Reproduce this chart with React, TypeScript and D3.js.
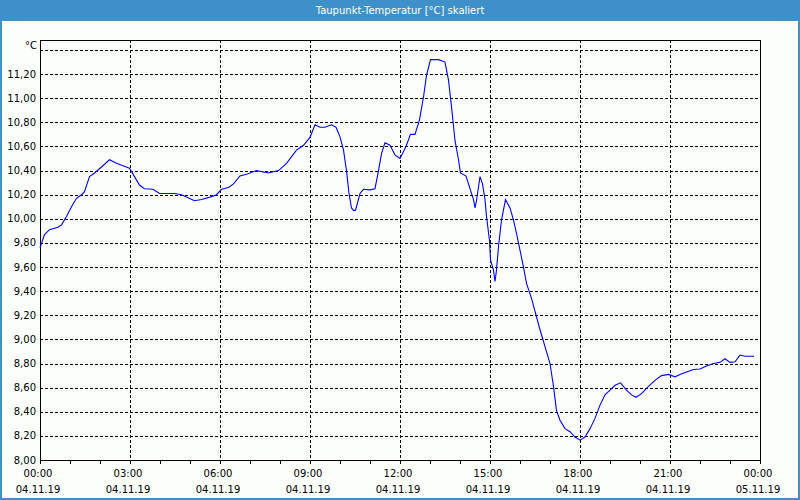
import React from "react";
import * as d3 from "d3";

const TITLE = "Taupunkt-Temperatur [°C] skaliert";
const UNIT = "°C";

// minutes after 04.11.19 00:00
const minutes = [
  0, 9, 19, 36, 43, 53, 63, 73, 83, 89, 99, 109, 123, 139, 153, 166, 179, 189, 199, 209,
  226, 239, 269, 283, 309, 323, 340, 353, 363, 377, 387, 400, 413, 433, 457, 477, 493, 513, 527, 540,
  550, 560, 570, 583, 592, 600, 607, 613, 618, 623, 627, 631, 640, 647, 660, 670, 677, 683, 690, 700,
  710, 720, 732, 741, 750, 759, 767, 773, 781, 797, 810, 817, 823, 830, 837, 841, 852, 860, 867, 870,
  873, 880, 885, 890, 893, 899, 901, 907, 910, 913, 917, 923, 931, 940, 947, 953, 960, 967, 973, 983,
  1000, 1010, 1020, 1027, 1033, 1040, 1050, 1060, 1070, 1080, 1090, 1100, 1110, 1120, 1130, 1140, 1150, 1161, 1173, 1183,
  1192, 1203, 1217, 1230, 1243, 1257, 1270, 1280, 1293, 1307, 1320, 1333, 1347, 1360, 1370, 1380, 1390, 1400, 1410, 1428,
];
const values = [
  9.76, 9.87, 9.91, 9.93, 9.95, 10.02, 10.1, 10.17, 10.2, 10.225, 10.35, 10.38, 10.43, 10.49, 10.46, 10.44, 10.42, 10.35, 10.28, 10.25,
  10.245, 10.21, 10.21, 10.2, 10.15, 10.16, 10.18, 10.2, 10.245, 10.26, 10.29, 10.355, 10.37, 10.4, 10.38, 10.4, 10.46, 10.57, 10.61, 10.675,
  10.78, 10.76, 10.76, 10.78, 10.76, 10.68, 10.57, 10.4, 10.21, 10.09, 10.07, 10.07, 10.21, 10.245, 10.24, 10.25, 10.4, 10.54, 10.63, 10.61,
  10.53, 10.5, 10.6, 10.7, 10.7, 10.82, 11.01, 11.19, 11.32, 11.32, 11.3, 11.15, 10.93, 10.65, 10.49, 10.38, 10.355, 10.25, 10.16, 10.09,
  10.15, 10.35, 10.29, 10.16, 10.02, 9.82, 9.66, 9.575, 9.48, 9.575, 9.77, 9.99, 10.16, 10.09, 9.99, 9.88, 9.74, 9.6, 9.465, 9.34,
  9.08, 8.94, 8.8, 8.61, 8.41, 8.33, 8.26, 8.235, 8.19, 8.165, 8.19, 8.26, 8.345, 8.455, 8.54, 8.58, 8.62, 8.64, 8.58, 8.54,
  8.52, 8.55, 8.61, 8.66, 8.7, 8.71, 8.69, 8.71, 8.73, 8.75, 8.755, 8.78, 8.8, 8.81, 8.84, 8.81, 8.815, 8.87, 8.86, 8.86,
];

// grid lines; the topmost (11,40) has no label in the reference
const yGrid = [8.2, 8.4, 8.6, 8.8, 9.0, 9.2, 9.4, 9.6, 9.8, 10.0, 10.2, 10.4, 10.6, 10.8, 11.0, 11.2, 11.4];
const yLabels = [8.0, 8.2, 8.4, 8.6, 8.8, 9.0, 9.2, 9.4, 9.6, 9.8, 10.0, 10.2, 10.4, 10.6, 10.8, 11.0, 11.2];
const xTickHours = [0, 3, 6, 9, 12, 15, 18, 21, 24];

const W = 800;
const H = 500;
const L = 40;
const R = 760;
const T = 40;
const B = 460;
const FONT = "'DejaVu Sans', sans-serif";

export default function App() {
  const start = new Date(2019, 10, 4, 0, 0, 0);
  const end = new Date(2019, 10, 5, 0, 0, 0);
  const x = d3.scaleTime().domain([start, end]).range([L, R]);
  const y = d3.scaleLinear().domain([8, 11.4]).range([B, 50]);
  const fmtT = d3.timeFormat("%H:%M");
  const fmtD = d3.timeFormat("%d.%m.%y");
  const fmtY = (v: number) => d3.format(".2f")(v).replace(".", ",");

  const pts = minutes.map((m, i) => ({ t: d3.timeMinute.offset(start, m), v: values[i] }));
  const line = d3
    .line<{ t: Date; v: number }>()
    .x((d) => x(d.t))
    .y((d) => y(d.v));

  const hours = d3.range(0, 25).map((h) => d3.timeHour.offset(start, h));
  const majors = xTickHours.map((h) => d3.timeHour.offset(start, h));

  return (
    <svg
      width={W}
      height={H}
      style={{ position: "absolute", left: 0, top: 0, display: "block" }}
      fontFamily={FONT}
    >
      <rect x={0} y={0} width={W} height={H} fill="#fcfefc" />
      <rect x={0} y={0} width={W} height={21} fill="#3e90c8" />
      <text x={400} y={10.5} textAnchor="middle" dominantBaseline="central" fill="#ffffff" fontSize={10}>
        {TITLE}
      </text>
      <rect x={1} y={1} width={W - 2} height={H - 2} fill="none" stroke="#3e90c8" strokeWidth={2} />

      <g shapeRendering="crispEdges">
        {yGrid.map((v) => (
          <line key={"h" + v} x1={L} x2={R} y1={Math.round(y(v)) + 0.5} y2={Math.round(y(v)) + 0.5} stroke="#000" strokeDasharray="3,2" />
        ))}
        {majors
          .filter((d, i) => i > 0 && i < majors.length - 1)
          .map((d, i) => (
            <line key={"v" + i} x1={Math.round(x(d)) + 0.5} x2={Math.round(x(d)) + 0.5} y1={T} y2={B} stroke="#000" strokeDasharray="3,2" />
          ))}
        {hours.map((d, i) => (
          <line key={"t" + i} x1={Math.round(x(d)) + 0.5} x2={Math.round(x(d)) + 0.5} y1={B} y2={B + 4} stroke="#000" />
        ))}
        <rect x={L + 0.5} y={T + 0.5} width={R - L} height={B - T} fill="none" stroke="#000" />
      </g>

      <path d={line(pts) || ""} fill="none" stroke="#0000ff" strokeWidth={1.1} />

      {yLabels.map((v) => (
        <text key={"yl" + v} x={36} y={y(v)} textAnchor="end" dominantBaseline="central" fontSize={10} fill="#000">
          {fmtY(v)}
        </text>
      ))}
      <text x={37} y={45} textAnchor="end" dominantBaseline="central" fontSize={10} fill="#000">
        {UNIT}
      </text>

      {majors.map((d, i) => (
        <g key={"xl" + i}>
          <text x={x(d) - 2} y={473} textAnchor="middle" dominantBaseline="central" fontSize={10} fill="#000">
            {fmtT(d)}
          </text>
          <text x={x(d) - 2} y={489} textAnchor="middle" dominantBaseline="central" fontSize={10} fill="#000">
            {fmtD(d)}
          </text>
        </g>
      ))}
    </svg>
  );
}
